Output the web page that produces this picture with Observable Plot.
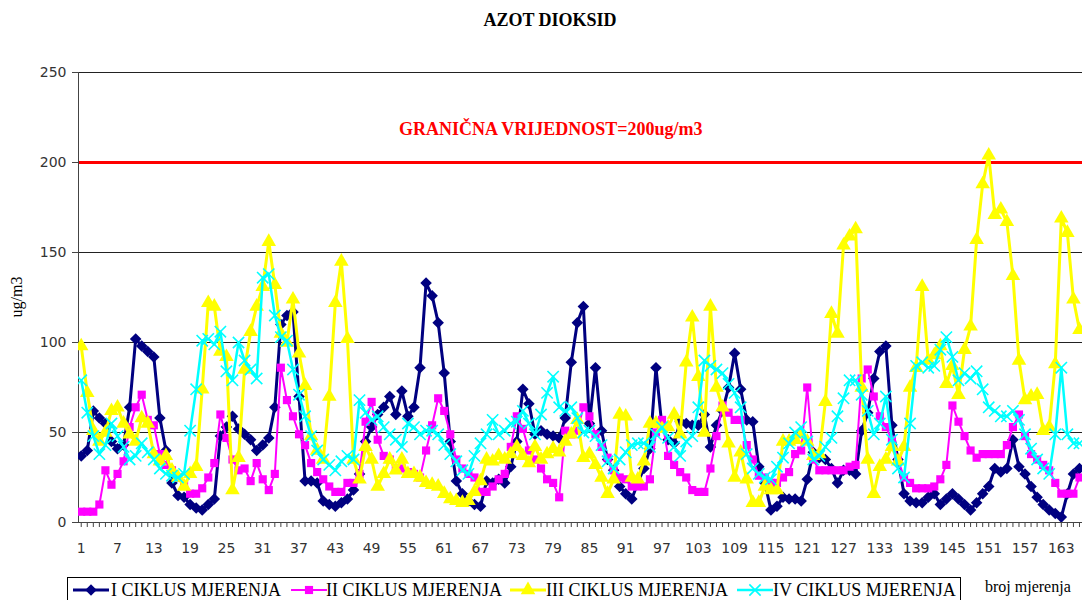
<!DOCTYPE html>
<html>
<head>
<meta charset="utf-8">
<script src="https://cdn.jsdelivr.net/npm/d3@7"></script>
<script src="https://cdn.jsdelivr.net/npm/@observablehq/plot@0.6"></script>
<style>
  body { margin: 0; background: #fff; }
  #wrap { position: relative; width: 1082px; height: 600px; overflow: hidden; background: #fff; font-family: "Liberation Serif", "Times New Roman", serif; color: #000; }
  #chart { position: absolute; left: 0; top: 0; }
  #title { position: absolute; top: 9px; left: 0; width: 1100px; text-align: center; font-weight: bold; font-size: 18px; line-height: 22px; }
  #ylab { position: absolute; left: 17px; top: 297px; transform: translate(-50%, -50%) rotate(-90deg); font-size: 16px; white-space: nowrap; }
  #legend { position: absolute; left: 67px; top: 577px; width: 894px; height: 40px; border: 1px solid #000; box-sizing: border-box; }
  .lg-sample { position: absolute; top: 2px; }
  .lg-text { position: absolute; top: 1px; font-size: 18px; line-height: 22px; white-space: nowrap; }
  #xlab { position: absolute; left: 985px; top: 578px; font-size: 16px; white-space: nowrap; }
</style>
</head>
<body>
<div id="wrap">
  <div id="chart"></div>
  <div id="title">AZOT DIOKSID</div>
  <div id="ylab">ug/m3</div>
  <div id="legend"></div>
  <div id="xlab">broj mjerenja</div>
</div>
<script>
// ---- data ----
const cycle1 = [
  37,40,62,58,55,45,41,43,64,102,
  98,95,92,58,40,22,15,14,10,8,
  7,10,13,48,53,59,52,49,46,40,
  43,47,64,110,115,117,70,23,23,22,
  12,10,9,11,13,18,27,45,53,60,
  64,70,60,73,59,64,86,133,126,111,
  83,45,23,16,12,10,9,23,22,24,
  22,31,45,74,66,49,51,49,48,47,
  58,89,111,120,55,86,51,35,29,20,
  16,13,22,30,41,86,53,46,44,56,
  55,54,54,60,42,54,62,75,94,74,
  57,56,31,22,7,9,14,13,13,12,
  24,39,36,35,30,22,29,29,27,51,
  61,80,95,98,54,35,16,12,11,11,
  14,16,10,13,16,13,10,7,11,16,
  20,30,28,30,46,31,27,20,14,10,
  7,5,3,16,27,30
];
const cycle2 = [
  6,6,6,10,29,21,27,34,53,64,
  71,57,54,38,32,29,25,21,16,16,
  19,25,33,60,47,35,29,30,23,33,
  24,18,27,86,68,59,49,43,33,28,
  24,20,17,17,22,22,27,56,67,46,
  37,35,30,30,28,27,25,40,54,69,
  62,49,35,30,27,25,17,17,20,24,
  27,42,59,52,40,35,30,24,22,14,
  51,49,51,64,59,49,42,36,29,25,
  24,20,20,20,24,50,57,37,32,28,
  25,18,17,17,30,48,65,61,57,57,
  43,35,26,25,22,22,25,28,38,40,
  75,35,29,29,29,29,29,31,32,80,
  85,70,59,53,46,35,25,22,19,19,
  19,20,24,32,65,56,48,40,36,38,
  38,38,38,43,53,60,48,38,35,32,
  29,22,16,16,16,25
];
const cycle3 = [
  98,72,51,45,50,62,64,55,49,45,
  58,55,38,34,37,29,25,20,27,31,
  74,122,120,95,92,18,36,85,106,120,
  131,156,132,105,100,124,94,76,48,40,
  35,70,122,145,102,35,24,42,35,20,
  27,35,29,35,27,27,25,22,21,20,
  16,13,12,11,12,17,23,35,34,37,
  35,38,42,37,33,42,35,38,41,39,
  45,49,57,36,38,32,25,16,24,60,
  59,25,24,34,55,55,52,53,60,49,
  89,114,81,50,120,75,64,44,25,39,
  24,11,11,20,18,18,45,45,46,49,
  45,37,38,67,116,105,154,159,163,75,
  35,16,31,35,42,34,42,75,86,131,
  90,93,98,77,87,71,96,109,157,188,
  204,171,174,167,137,90,68,70,71,51,
  53,88,169,161,124,107
];
const cycle4 = [
  79,61,48,38,43,55,48,42,35,37,
  44,39,35,30,27,26,25,27,51,74,
  101,102,99,106,84,79,100,90,85,80,
  136,138,115,103,101,85,71,59,48,40,
  35,32,29,34,37,35,68,61,57,59,
  53,49,46,42,55,53,49,51,51,49,
  43,38,34,29,27,37,44,49,57,49,
  51,55,56,62,55,49,60,72,81,64,
  62,64,58,50,51,48,43,34,30,35,
  39,43,44,44,42,49,53,47,42,37,
  45,48,64,90,87,85,83,77,72,64,
  38,30,27,25,24,31,36,44,50,53,
  45,35,37,42,47,59,69,79,79,71,
  62,49,55,70,46,30,25,55,87,89,
  86,87,96,103,92,79,83,80,84,74,
  64,62,59,59,62,57,49,41,35,30,
  27,49,86,49,44,44
];
const seriesNames = ["I CIKLUS MJERENJA", "II CIKLUS MJERENJA", "III CIKLUS MJERENJA", "IV CIKLUS MJERENJA"];
const seriesValues = [cycle1, cycle2, cycle3, cycle4];
const xTickLabels = [1,7,13,19,25,31,37,43,49,55,61,67,73,79,85,91,97,103,109,115,121,127,133,139,145,151,157,163];
const yTicks = [0, 50, 100, 150, 200, 250];
const yGrid = [50, 100, 150, 250];
const limitValue = 200;
const limitLabel = "GRANIČNA VRIJEDNOST=200ug/m3";
const limitLabelAt = 78.6;

// ---- styles ----
const seriesStyles = [
  {color: "#000080", symbol: "diamond2", r: 5.2, width: 3, filled: true},
  {color: "#FF00FF", symbol: "square", r: 4.6, width: 2, filled: true},
  {color: "#FFFF00", symbol: "triangle", r: 5.4, width: 3, filled: true},
  {color: "#00FFFF", symbol: "times", r: 5.2, width: 2.5, filled: false}
];
const xDomain = [0.55, 166.5];

const series = seriesValues.map((vals, k) => vals.map((v, j) => ({n: j + 1, v, s: seriesNames[k]})));
const catTicks = series[0].map(d => d.n);

const seriesMarks = series.flatMap((data, k) => {
  const st = seriesStyles[k];
  return [
    Plot.line(data, {x: "n", y: "v", stroke: st.color, strokeWidth: st.width, clip: true}),
    st.filled
      ? Plot.dot(data, {x: "n", y: "v", symbol: st.symbol, r: st.r, fill: st.color, stroke: "none", clip: true})
      : Plot.dot(data, {x: "n", y: "v", symbol: st.symbol, r: st.r, stroke: st.color, strokeWidth: 1.6, fill: "none", clip: true})
  ];
});

const chart = Plot.plot({
  width: 1082,
  height: 572,
  marginTop: 72,
  marginBottom: 50,
  marginLeft: 78,
  marginRight: 0,
  style: {fontFamily: "DejaVu Sans", fontSize: "14px", color: "#222", background: "#fff"},
  x: {domain: xDomain, axis: null},
  y: {domain: [0, 250], axis: null},
  marks: [
    Plot.gridY(yGrid, {stroke: "#222", strokeOpacity: 1, strokeWidth: 1}),
    Plot.ruleY([limitValue], {stroke: "#FF0000", strokeWidth: 3}),
    Plot.text([{t: limitLabel, x: limitLabelAt, y: limitValue}], {x: "x", y: "y", text: "t", dy: -33, fill: "#FF0000", fontFamily: "Liberation Serif", fontSize: 18, fontWeight: "bold"}),
    Plot.axisY(yTicks, {tickSize: 6, tickPadding: 6, stroke: "#444", label: null, fill: "#333"}),
    Plot.axisX(catTicks, {tickSize: 5, tickFormat: () => "", stroke: "#444", label: null}),
    Plot.axisX(xTickLabels, {tickSize: 0, tickPadding: 21, label: null, fill: "#333"}),
    Plot.ruleX([xDomain[0]], {stroke: "#444"}),
    Plot.ruleY([0], {stroke: "#444"}),
    ...seriesMarks
  ]
});
document.getElementById("chart").appendChild(chart);

// ---- legend ----
const legend = d3.select("#legend");
const sampleLeft = [5, 223, 442, 669];
const textLeft = [43, 258, 478, 705];
const symMap = {diamond2: d3.symbolDiamond2, square: d3.symbolSquare, triangle: d3.symbolTriangle, times: d3.symbolTimes};
seriesNames.forEach((name, k) => {
  const st = seriesStyles[k];
  const svg = legend.append("svg").attr("class", "lg-sample")
    .style("left", sampleLeft[k] + "px").attr("width", 36).attr("height", 20);
  svg.append("line").attr("x1", 0).attr("x2", 36).attr("y1", 10).attr("y2", 10)
    .attr("stroke", st.color).attr("stroke-width", st.width);
  const path = d3.symbol().type(symMap[st.symbol]).size(Math.PI * st.r * st.r)();
  const p = svg.append("path").attr("d", path).attr("transform", "translate(18,10)");
  if (st.filled) p.attr("fill", st.color); else p.attr("fill", "none").attr("stroke", st.color).attr("stroke-width", 1.6);
  legend.append("div").attr("class", "lg-text").style("left", textLeft[k] + "px").text(name);
});
</script>
</body>
</html>
